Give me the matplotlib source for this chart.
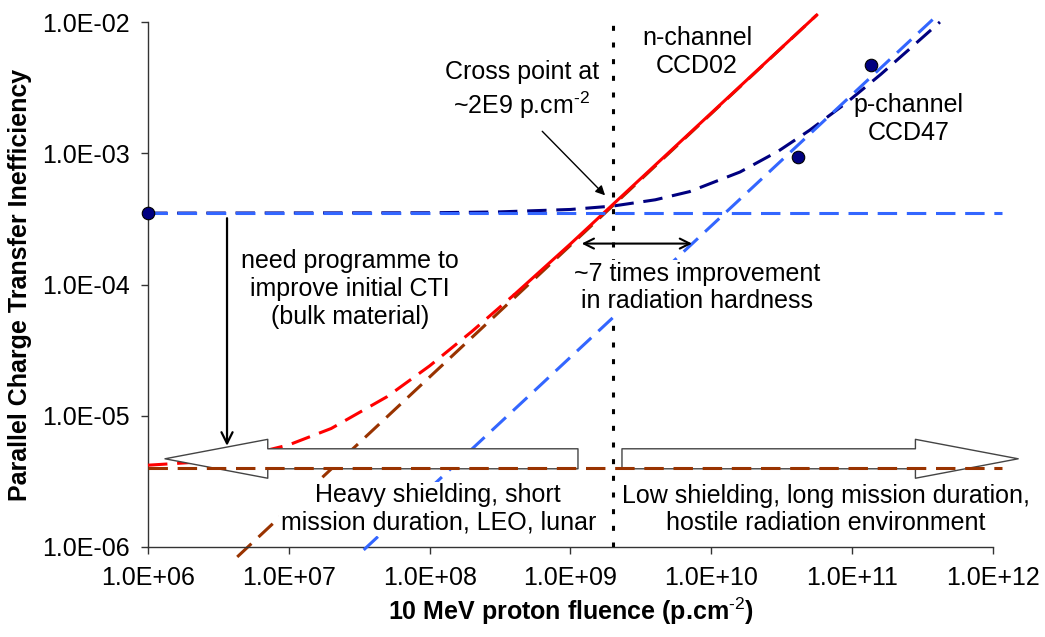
import matplotlib
matplotlib.use("Agg")
import matplotlib.pyplot as plt
from matplotlib.ticker import FixedLocator, FuncFormatter, NullLocator

plt.rcParams['font.family'] = ['Liberation Sans', 'DejaVu Sans']
plt.rcParams['mathtext.fontset'] = 'custom'
plt.rcParams['mathtext.rm'] = 'Liberation Sans'
plt.rcParams['mathtext.bf'] = 'Liberation Sans:bold'
plt.rcParams['lines.scale_dashes'] = False

# --- data ---
# n-channel CCD02: radiation-induced part only (brown) and total CTI (red)
n_lin_fluence = [4.3e6, 5.6e10]
n_lin_cti = [8.4e-7, 1.13e-2]
n_low_fluence = [1e6, 2e6, 5e6, 1e7, 2e7, 5e7, 1e8, 2e8, 4e8]
n_low_cti = [4.2e-6, 4.4e-6, 5.0e-6, 6.0e-6, 8.0e-6, 1.4e-5, 2.4e-5, 4.4e-5, 8.4e-5]
n_fit_fluence = [4e8, 1e9, 5.6e10]
n_fit_cti = [8.4e-5, 2.04e-4, 1.13e-2]

# initial (pre-irradiation) CTI levels
base_fluence = [1e6, 1.15e12]
n_cti0 = [4.0e-6, 4.0e-6]
p_cti0 = [3.5e-4, 3.5e-4]

# p-channel CCD47: radiation-induced part (light blue) and total (navy)
p_lin_fluence = [3.4e7, 4.0e11]
p_lin_cti = [9.5e-7, 1.12e-2]
p_tot_fluence = [1e6, 1e8, 3e8, 1e9, 2e9, 4e9, 7e9, 1.6e10, 3e10,
                 5e10, 9e10, 1.6e11, 2.5e11, 4.2e11]
p_tot_cti = [3.5e-4, 3.52e-4, 3.57e-4, 3.73e-4, 3.96e-4, 4.42e-4, 5.1e-4,
             7.2e-4, 1.04e-3, 1.5e-3, 2.4e-3, 4.0e-3, 6.1e-3, 1.0e-2]

# p-channel measurements
p_meas_fluence = [1e6, 4.1e10, 1.36e11]
p_meas_cti = [3.5e-4, 9.3e-4, 4.7e-3]

cross_fluence = 2e9
x_ticks = [1e6, 1e7, 1e8, 1e9, 1e10, 1e11, 1e12]
y_ticks = [1e-6, 1e-5, 1e-4, 1e-3, 1e-2]

RED = '#FF0000'
BROWN = '#993300'
BLUE = '#3366FF'
NAVY = '#000080'
DASH = (14, 7)
FS = 18

fig = plt.figure(figsize=(10.45, 6.37), dpi=100)
ax = fig.add_axes([148 / 1045, 1 - 547 / 637, 845 / 1045, 525 / 637])
ax.set_xscale('log')
ax.set_yscale('log')
ax.set_xlim(1e6, 1e12)
ax.set_ylim(1e-6, 1e-2)

kw = dict(lw=2.2, clip_on=False)
ax.plot(base_fluence, n_cti0, color=BROWN, dashes=DASH, zorder=5.5, **kw)
ax.plot(n_lin_fluence, n_lin_cti, color=BROWN, dashes=DASH, zorder=2, **kw)
ax.plot(n_low_fluence, n_low_cti, color=RED, dashes=DASH, zorder=3, **kw)
ax.plot(n_fit_fluence, n_fit_cti, color=RED, zorder=3, **kw)
ax.plot(p_tot_fluence, p_tot_cti, color=NAVY, dashes=DASH, zorder=2, **kw)
ax.plot(base_fluence, p_cti0, color=BLUE, dashes=DASH, zorder=3, **kw)
ax.plot(p_lin_fluence, p_lin_cti, color=BLUE, dashes=DASH, zorder=3, **kw)
ax.plot(p_meas_fluence, p_meas_cti, 'o', ms=9, mfc=NAVY, mec='black', mew=0.8,
        zorder=8, clip_on=False)
ax.axvline(cross_fluence, color='black', lw=2.2, dashes=(3.6, 8.4), zorder=4)

# axes styling
for side in ['top', 'right']:
    ax.spines[side].set_visible(False)
for side in ['left', 'bottom']:
    ax.spines[side].set_color('#333333')
    ax.spines[side].set_linewidth(1)
ax.xaxis.set_major_locator(FixedLocator(x_ticks))
ax.yaxis.set_major_locator(FixedLocator(y_ticks))
ax.xaxis.set_minor_locator(NullLocator())
ax.yaxis.set_minor_locator(NullLocator())
fmt = FuncFormatter(lambda v, p: f'{v:.1E}')
ax.xaxis.set_major_formatter(fmt)
ax.yaxis.set_major_formatter(fmt)
ax.tick_params(axis='both', direction='out', length=5, width=1, color='#333333',
               labelsize=FS)
ax.tick_params(axis='x', pad=9)
ax.tick_params(axis='y', pad=8)
ax.set_xlabel(r'10 MeV proton fluence (p.cm$^{\text{-2}}$)', fontsize=FS,
              fontweight='bold', labelpad=4)
ax.set_ylabel('Parallel Charge Transfer Inefficiency', fontsize=FS,
              fontweight='bold', labelpad=7)

# block arrows for mission regimes
block = dict(arrowstyle='simple,head_width=2.8,head_length=7.4,tail_width=1.44',
             mutation_scale=10, fc='white', ec='#444444', lw=1,
             shrinkA=0, shrinkB=0)
ax.annotate('', xy=(1.32e6, 4.7e-6), xytext=(1.13e9, 4.7e-6),
            arrowprops=block, annotation_clip=False, zorder=5)
ax.annotate('', xy=(1.51e12, 4.7e-6), xytext=(2.32e9, 4.7e-6),
            arrowprops=block, annotation_clip=False, zorder=5)

box = dict(facecolor='white', edgecolor='none', pad=1)
ax.text(4.5e8, 3.0e-3, 'Cross point at\n~2E9 p.cm$^{\\text{-2}}$', fontsize=FS,
        ha='center', va='center', zorder=6)
ax.annotate('', xy=(1.76e9, 4.78e-4), xytext=(6.3e8, 1.47e-3),
            arrowprops=dict(arrowstyle='-|>', color='black', lw=1,
                            mutation_scale=14, shrinkA=0, shrinkB=0), zorder=6)
ax.text(7.9e9, 5.9e-3, 'n-channel\nCCD02', fontsize=FS, ha='center', va='center',
        zorder=6)
ax.text(2.5e11, 1.82e-3, 'p-channel\nCCD47', fontsize=FS, ha='center', va='center',
        zorder=6)
ax.annotate('', xy=(1.2e9, 2.05e-4), xytext=(7.3e9, 2.05e-4),
            arrowprops=dict(arrowstyle='<->', color='black', lw=1.5,
                            mutation_scale=18, shrinkA=0, shrinkB=0), zorder=6)
ax.text(7.9e9, 9.5e-5, '~7 times improvement\nin radiation hardness', fontsize=FS,
        ha='center', va='center', bbox=box, zorder=6)
ax.annotate('', xy=(3.64e6, 5.9e-6), xytext=(3.64e6, 3.2e-4),
            arrowprops=dict(arrowstyle='->', color='black', lw=1.6,
                            mutation_scale=20, shrinkA=0, shrinkB=0), zorder=6)
ax.text(2.72e7, 9.2e-5, 'need programme to\nimprove initial CTI\n(bulk material)',
        fontsize=FS, ha='center', va='center', bbox=box, zorder=6)
ax.text(1.15e8, 1.95e-6, 'Heavy shielding, short\nmission duration, LEO, lunar',
        fontsize=FS, ha='center', va='center', bbox=box, zorder=6)
ax.text(6.5e10, 1.93e-6, 'Low shielding, long mission duration,\n'
        'hostile radiation environment',
        fontsize=FS, ha='center', va='center', bbox=box, zorder=6)

fig.savefig('out.png', dpi=100)
